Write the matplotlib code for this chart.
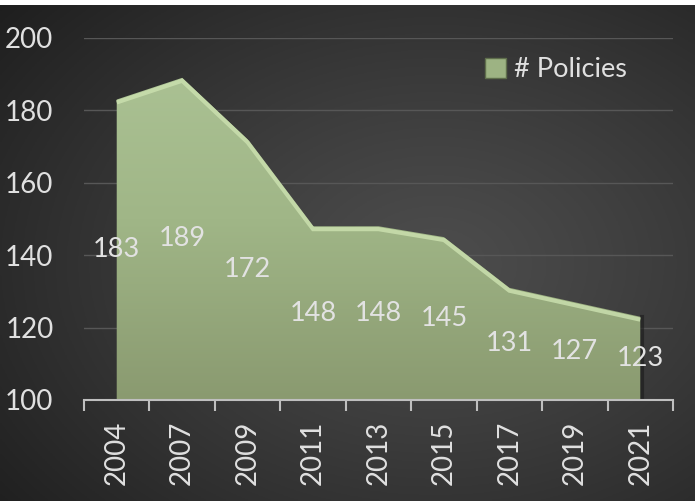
import numpy as np
import matplotlib
matplotlib.use("Agg")
import matplotlib.pyplot as plt
from matplotlib.patches import Patch
from matplotlib.colors import LinearSegmentedColormap

years = ["2004", "2007", "2009", "2011", "2013", "2015", "2017", "2019", "2021"]
policies = [183, 189, 172, 148, 148, 145, 131, 127, 123]
series_name = "# Policies"
yticks = [100, 120, 140, 160, 180, 200]

plt.rcParams['font.family'] = ['Lato', 'DejaVu Sans']
W, H = 695, 501
fig = plt.figure(figsize=(W / 100, H / 100), dpi=100)
fig.patch.set_facecolor('white')

# background radial gradient
bg = fig.add_axes([0, 0, 1, 1 - 5 / H])
bg.set_axis_off()
yy, xx = np.mgrid[0:200, 0:280]
cx, cy = 175, 95
r = np.sqrt(((xx - cx) / 280) ** 2 + ((yy - cy) / 200) ** 2)
r = r / r.max()
val = 0.30 - 0.18 * r ** 1.2
bg.imshow(np.dstack([val, val, val]), aspect='auto', extent=[0, 1, 0, 1], origin='lower')
bg.set_xlim(0, 1); bg.set_ylim(0, 1)

ax = fig.add_axes([84 / W, 1 - 400 / H, (673 - 84) / W, (400 - 38) / H])
ax.patch.set_alpha(0)
x = np.arange(len(years))
ax.set_xlim(-0.5, len(years) - 0.5)
ax.set_ylim(100, 200)

for t in yticks[1:]:
    ax.axhline(t, color='#575757', lw=1.0, zorder=0)

poly = ax.fill_between(x, 100, policies, color='none', lw=0, zorder=2)
cmap = LinearSegmentedColormap.from_list('g', ['#8a9a70', '#a0b687', '#adc496'])
grad = np.linspace(0, 1, 256).reshape(-1, 1)
im = ax.imshow(grad, cmap=cmap, aspect='auto', origin='lower',
               extent=[-0.5, len(years) - 0.5, 100, 200], zorder=2)
im.set_clip_path(poly.get_paths()[0], transform=ax.transData)
# bevel highlight
ax.plot(x, np.array(policies) - 0.8, color='#cadfae', lw=3, zorder=3, alpha=0.85,
        solid_capstyle='butt', solid_joinstyle='miter')
ax.plot([x[-1] + 0.02, x[-1] + 0.02], [100, policies[-1]], color='#1a1a1a', lw=3, zorder=1, alpha=0.6)

for xi, v in zip(x, policies):
    ax.text(xi, (v + 100) / 2, str(v), ha='center', va='center', color='#e2e2e2',
            fontsize=19.5, zorder=4)

for s in ['top', 'right', 'left']:
    ax.spines[s].set_visible(False)
ax.spines['bottom'].set_color('#bfbfbf')
ax.spines['bottom'].set_linewidth(1.5)
ax.spines['bottom'].set_zorder(5)

ax.set_xticks(x)
ax.set_xticklabels(years, rotation=90, color='#e0e0e0', fontsize=20)
ax.set_xticks(np.arange(-0.5, len(years)), minor=True)
ax.tick_params(axis='x', which='major', length=0, pad=15)
ax.tick_params(axis='x', which='minor', length=8, width=1.5, color='#bfbfbf')
ax.set_yticks(yticks)
ax.set_yticklabels([str(t) for t in yticks], color='#e0e0e0', fontsize=20)
ax.tick_params(axis='y', length=0, pad=22)

handle = Patch(facecolor='#9db383', edgecolor='#5f6e4c', lw=1)
leg = ax.legend([handle], [series_name], loc='center left', bbox_to_anchor=(0.64, 0.912),
                frameon=False, fontsize=19.5, handlelength=0.75, handleheight=0.75,
                handletextpad=0.3, labelcolor='#e0e0e0')

fig.savefig('out.png', dpi=100, facecolor=fig.get_facecolor())
